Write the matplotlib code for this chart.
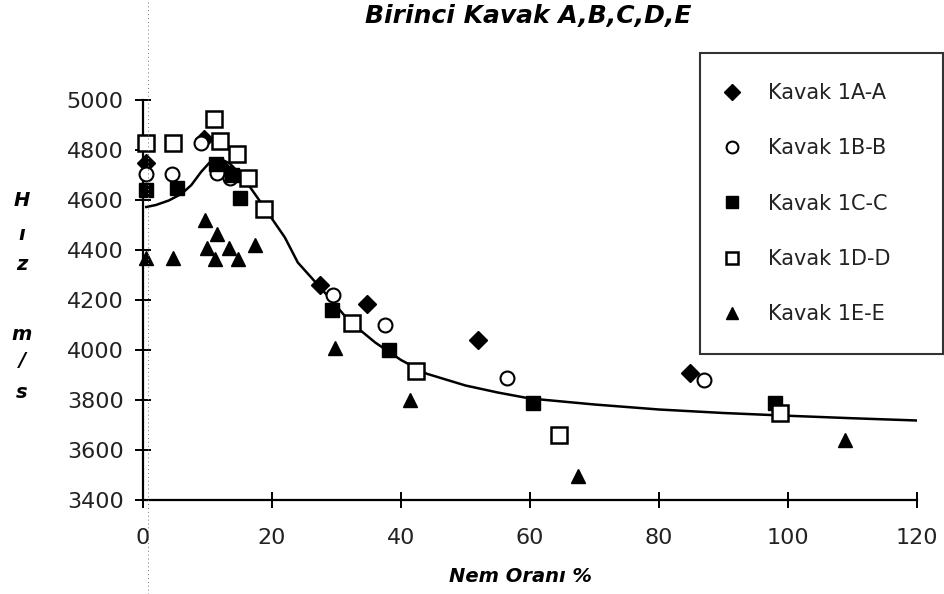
import matplotlib
matplotlib.use('Agg')
import matplotlib.pyplot as plt
from matplotlib.lines import Line2D

# nem orani (%) ve hiz (m/s) olcumleri
a_x = [0.5, 9.5, 12, 13.5, 27.5, 34.8, 52, 84.8]
a_y = [4750, 4845, 4735, 4700, 4260, 4185, 4040, 3910]

b_x = [0.5, 4.5, 9, 11.5, 13.5, 29.5, 37.5, 56.5, 87]
b_y = [4705, 4705, 4830, 4710, 4690, 4220, 4100, 3890, 3880]

c_x = [0.5, 5.2, 11.3, 13.8, 15, 29.3, 38.2, 60.5, 98]
c_y = [4640, 4650, 4745, 4700, 4610, 4160, 4000, 3790, 3790]

d_x = [0.5, 4.7, 11, 12, 14.5, 16.3, 18.8, 32.4, 42.3, 64.5, 98.8]
d_y = [4830, 4830, 4925, 4835, 4785, 4690, 4565, 4110, 3915, 3660, 3750]

e_x = [0.5, 4.6, 9.6, 9.9, 11.4, 11.2, 13.4, 14.8, 17.4, 29.8, 41.4, 67.5, 108.8]
e_y = [4370, 4370, 4520, 4410, 4465, 4365, 4410, 4365, 4420, 4010, 3800, 3495, 3640]

# egilim cizgisi
fit_x = [0.5, 2, 4, 6, 7.5, 9, 10.5, 12, 13.5, 15, 16.5, 18, 20, 22, 24, 28,
         32, 36, 40, 44, 50, 55, 60, 70, 80, 90, 100, 110, 120]
fit_y = [4572, 4580, 4598, 4625, 4660, 4712, 4755, 4765, 4745, 4705, 4655,
         4600, 4525, 4450, 4350, 4235, 4115, 4030, 3960, 3905, 3858, 3830,
         3806, 3782, 3762, 3748, 3737, 3727, 3718]

labels = ['Kavak 1A-A', 'Kavak 1B-B', 'Kavak 1C-C', 'Kavak 1D-D', 'Kavak 1E-E']
x_ticks = [0, 20, 40, 60, 80, 100, 120]
y_ticks = [3400, 3600, 3800, 4000, 4200, 4400, 4600, 4800, 5000]

plt.rcParams['font.family'] = ['DejaVu Sans']

fig = plt.figure(figsize=(9.44, 5.94), dpi=100)
ax = fig.add_axes([143 / 944, 1 - 500 / 594, 774 / 944, 400 / 594])

# tarama izi gibi ince noktali dikey cizgi
fig.add_artist(Line2D([148 / 944, 148 / 944], [0, 1], transform=fig.transFigure,
                      color='#777777', lw=0.7, ls=(0, (1, 3))))

ax.plot(fit_x, fit_y, color='black', lw=1.8, zorder=2)

ms = 10
kw = dict(ls='none', clip_on=False, zorder=3)
ax.plot(a_x, a_y, marker='D', ms=ms - 1, color='black', label=labels[0], **kw)
ax.plot(b_x, b_y, marker='o', ms=ms, mfc='white', mec='black', mew=1.5,
        label=labels[1], **kw)
ax.plot(c_x, c_y, marker='s', ms=ms, color='black', label=labels[2], **kw)
ax.plot(d_x, d_y, marker='s', ms=ms + 1, mfc='white', mec='black', mew=1.8,
        label=labels[3], **kw)
ax.plot(e_x, e_y, marker='^', ms=ms, color='black', label=labels[4], **kw)

ax.set_xlim(0, 120)
ax.set_ylim(3400, 5000)
ax.set_xticks(x_ticks)
ax.set_yticks(y_ticks)
ax.spines['top'].set_visible(False)
ax.spines['right'].set_visible(False)
ax.spines['left'].set_linewidth(1.6)
ax.spines['bottom'].set_linewidth(1.6)
ax.tick_params(axis='both', direction='inout', length=12, width=1.4,
               labelsize=16, labelcolor='#222222')
ax.tick_params(axis='x', pad=14)
ax.tick_params(axis='y', pad=8)

leg = ax.legend(loc='upper left', bbox_to_anchor=(700 / 944, 1 - 53 / 594, 243 / 944, 0.0),
                bbox_transform=fig.transFigure, mode='expand', fontsize=15,
                frameon=True, fancybox=False, edgecolor='black', borderpad=1.45,
                labelspacing=1.69, handletextpad=1.6, handlelength=0.2,
                borderaxespad=0, markerscale=0.85)
leg.get_frame().set_linewidth(1.5)
for t in leg.get_texts():
    t.set_color('#222222')

fig.text(528 / 944, 1 - 16 / 594, 'Birinci Kavak A,B,C,D,E', ha='center', va='center',
         fontsize=18, fontweight='bold', fontstyle='italic')
fig.text(520 / 944, 1 - 577 / 594, 'Nem Oranı %', ha='center', va='center',
         fontsize=14, fontstyle='italic', fontweight='bold')

# dikey eksen basligi, harfler alt alta
for ch, yp in zip(['H', 'ı', 'z', 'm', '/', 's'], [200, 235, 265, 335, 360, 393]):
    fig.text(22 / 944, 1 - yp / 594, ch, ha='center', va='center',
             fontsize=14, fontstyle='italic', fontweight='bold')

fig.savefig('out.png', dpi=100)
